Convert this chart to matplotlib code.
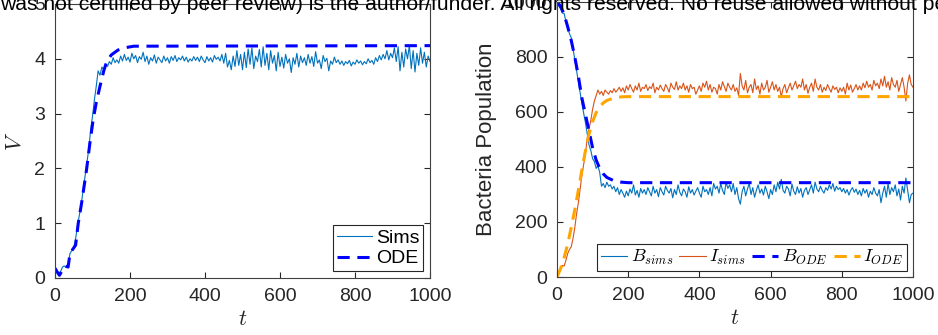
import numpy as np
import matplotlib
matplotlib.use("Agg")
import matplotlib.pyplot as plt

plt.rcParams['font.family'] = ['Liberation Sans', 'DejaVu Sans']
plt.rcParams['mathtext.fontset'] = 'cm'

# time grid of the stochastic simulations
t_sims = np.arange(0, 1001, 5)

V_sims = [0.18, 0.10, 0.04, 0.12, 0.20, 0.22, 0.19, 0.24, 0.45, 0.50,
          0.55, 0.72, 0.95, 1.15, 1.35, 1.60, 1.85, 2.10, 2.35, 2.70,
          2.95, 3.25, 3.50, 3.78, 3.70, 3.85, 3.80, 3.90, 3.86, 3.95,
          3.90, 4.02, 3.93, 3.98, 3.92, 4.05, 3.96, 4.08, 3.97, 4.03,
          3.94, 4.10, 4.00, 4.06, 3.93, 4.04, 3.99, 4.12, 3.95, 4.05,
          3.90, 4.02, 3.96, 4.07, 3.92, 4.03, 3.98, 3.93, 4.05, 3.96,
          4.02, 3.92, 4.04, 3.97, 4.06, 3.95, 4.02, 3.98, 4.05, 3.96,
          4.03, 3.94, 4.00, 3.96, 4.04, 3.97, 4.03, 3.95, 4.05, 3.98,
          3.93, 4.04, 3.96, 4.02, 3.94, 4.06, 3.99, 4.03, 3.96, 4.08,
          3.92, 4.10, 3.85, 3.97, 3.80, 4.05, 3.86, 4.15, 3.88, 4.08,
          3.80, 4.12, 3.84, 4.18, 3.90, 4.20, 3.82, 4.05, 3.95, 4.17,
          3.85, 4.22, 3.88, 4.10, 3.80, 4.15, 3.92, 4.06, 3.78, 4.12,
          3.86, 4.03, 3.83, 4.08, 3.92, 4.00, 3.75, 4.02, 3.90, 4.10,
          3.85, 4.05, 3.93, 4.02, 3.88, 4.08, 3.92, 4.04, 3.86, 4.13,
          3.92, 3.98, 3.82, 4.06, 3.95, 4.01, 3.78, 3.96, 3.90, 4.03,
          3.93, 3.98, 3.90, 3.96, 3.88, 3.95, 3.91, 3.97, 3.87, 3.94,
          3.90, 3.98, 3.92, 3.96, 3.89, 3.95, 3.91, 4.00, 3.93, 3.97,
          3.90, 4.02, 3.95, 4.06, 3.98, 4.08, 4.00, 4.15, 3.98, 4.10,
          4.02, 4.20, 3.95, 4.22, 3.78, 4.12, 3.85, 4.18, 4.00, 4.24,
          3.82, 4.15, 3.76, 4.10, 3.88, 4.20, 3.92, 4.12, 3.85, 4.05,
          3.95]

B_sims = [1000, 985, 975, 960, 958, 930, 905, 885, 870, 830,
          790, 750, 710, 670, 630, 595, 560, 520, 480, 460,
          430, 420, 395, 405, 380, 330, 340, 325, 345, 330,
          335, 320, 330, 310, 325, 300, 318, 305, 290, 312,
          295, 320, 305, 335, 298, 315, 290, 322, 305, 318,
          300, 325, 310, 295, 330, 305, 318, 292, 325, 310,
          298, 330, 315, 305, 322, 288, 318, 300, 335, 308,
          295, 320, 310, 290, 328, 305, 318, 298, 312, 325,
          305, 290, 330, 310, 318, 300, 325, 295, 340, 320,
          330, 305, 340, 315, 300, 345, 322, 335, 310, 340,
          300, 325, 285, 265, 310, 330, 295, 320, 340, 300,
          325, 290, 315, 335, 305, 320, 298, 330, 310, 285,
          318, 300, 335, 310, 345, 320, 355, 315, 305, 330,
          320, 295, 338, 312, 300, 328, 305, 322, 290, 315,
          325, 300, 318, 335, 305, 345, 320, 310, 330, 315,
          305, 325, 315, 335, 320, 340, 312, 330, 318, 325,
          310, 322, 305, 318, 298, 315, 325, 308, 320, 300,
          315, 295, 322, 305, 318, 290, 312, 300, 325, 305,
          295, 318, 270, 305, 330, 290, 340, 300, 325, 310,
          335, 295, 320, 280, 330, 305, 360, 315, 270, 300,
          305]

I_sims = [0, 15, 30, 42, 40, 60, 85, 100, 110, 140,
          180, 230, 270, 320, 370, 410, 450, 505, 540, 570,
          610, 640, 660, 680, 665, 675, 660, 680, 672, 665,
          678, 670, 685, 672, 680, 690, 675, 688, 670, 695,
          680, 700, 685, 672, 695, 680, 705, 675, 690, 685,
          700, 678, 692, 685, 705, 670, 690, 680, 698, 685,
          675, 700, 688, 672, 705, 690, 682, 710, 680, 695,
          685, 705, 680, 695, 672, 700, 685, 690, 665, 680,
          695, 675, 705, 690, 712, 680, 700, 672, 690, 685,
          665, 700, 680, 710, 692, 675, 705, 690, 680, 700,
          675, 688, 660, 740, 695, 680, 715, 670, 690, 700,
          670, 720, 682, 695, 665, 705, 680, 690, 715, 672,
          690, 710, 680, 700, 675, 690, 655, 685, 700, 670,
          688, 705, 680, 695, 712, 685, 700, 690, 720, 680,
          700, 668, 690, 705, 675, 720, 690, 680, 700, 672,
          690, 678, 700, 685, 672, 695, 682, 690, 670, 688,
          675, 690, 665, 705, 680, 698, 672, 685, 700, 680,
          695, 680, 705, 688, 712, 690, 700, 680, 715, 695,
          705, 685, 720, 695, 730, 690, 710, 680, 725, 700,
          690, 715, 675, 700, 725, 690, 640, 705, 735, 700,
          690]

# ODE solutions
t_V_ode = [0, 5, 12, 20, 27, 35, 40, 50, 55, 62, 71, 84, 93, 102, 110,
           120, 130, 138, 150, 168, 185, 210, 1000]
V_ode = [0.18, 0.12, 0.05, 0.15, 0.22, 0.20, 0.45, 0.55, 0.60, 1.00, 1.37,
         1.97, 2.46, 2.90, 3.20, 3.50, 3.78, 3.95, 4.07, 4.16, 4.20, 4.23, 4.24]

t_BI_ode = [0, 10, 20, 30, 40, 50, 60, 70, 80, 90, 100, 110, 120, 130, 140,
            160, 180, 200, 1000]
B_ode = [1000, 985, 955, 910, 860, 800, 730, 650, 590, 530, 470, 425, 395,
         375, 362, 350, 345, 343, 343]
I_ode = [0, 30, 70, 120, 180, 245, 315, 390, 460, 520, 565, 598, 620, 633,
         642, 651, 655, 656, 656]

banner_head = ('was not certified by peer review) is the author/funder. '
               'All rights reserved. No reuse allowed without ')
banner_tail = 'permission.'

blue_sim = '#0072BD'
red_sim = '#D95319'
ink = '#262626'


def style_axes(ax):
    ax.tick_params(direction='in', length=4, width=0.8, labelsize=14,
                   colors=ink, top=True, right=True, pad=7)
    for s in ax.spines.values():
        s.set_color('#404040')
        s.set_linewidth(0.8)
    ax.set_xlim(0, 1000)
    ax.set_xticks([0, 200, 400, 600, 800, 1000])
    ax.set_xlabel('$t$', fontsize=16, color=ink, labelpad=3)


fig = plt.figure(figsize=(9.38, 3.35), dpi=100)

ax1 = fig.add_axes([55 / 938, 57 / 335, 375 / 938, 274 / 335])
ax1.plot(t_sims, V_sims, color=blue_sim, lw=0.8, label='Sims')
ax1.plot(t_V_ode, V_ode, color='#0000FF', lw=2.2, ls=(0, (4, 2.5)), label='ODE')
style_axes(ax1)
ax1.set_ylim(0, 5)
ax1.set_yticks([0, 1, 2, 3, 4, 5])
ax1.set_ylabel('$V$', fontsize=16, color=ink, labelpad=6)
leg1 = ax1.legend(loc='lower right', fontsize=14, handlelength=1.8,
                  handletextpad=0.2, borderpad=0.2, labelspacing=0.15,
                  fancybox=False, framealpha=1, borderaxespad=0.35)
leg1.get_frame().set_edgecolor(ink)
leg1.get_frame().set_linewidth(0.8)

ax2 = fig.add_axes([557 / 938, 58 / 335, 356 / 938, 275 / 335])
ax2.plot(t_sims, B_sims, color=blue_sim, lw=0.8, label='$B_{sims}$')
ax2.plot(t_sims, I_sims, color=red_sim, lw=0.8, label='$I_{sims}$')
ax2.plot(t_BI_ode, B_ode, color='#0000FF', lw=2.2, ls=(0, (4, 2.5)), label='$B_{ODE}$')
ax2.plot(t_BI_ode, I_ode, color='#FFA500', lw=2.2, ls=(0, (4, 2.5)), label='$I_{ODE}$')
style_axes(ax2)
ax2.set_ylim(0, 1000)
ax2.set_yticks([0, 200, 400, 600, 800, 1000])
ax2.set_ylabel('Bacteria Population', fontsize=16, color=ink, labelpad=5)
leg2 = ax2.legend(loc='lower right', ncol=4, fontsize=13, handlelength=1.45,
                  handletextpad=0.2, columnspacing=0.35, borderpad=0.2,
                  fancybox=False, framealpha=1, borderaxespad=0.35)
leg2.get_frame().set_edgecolor(ink)
leg2.get_frame().set_linewidth(0.8)

# overlaid preprint notice: size it so "...without " ends near the right edge
renderer = fig.canvas.get_renderer()
probe = fig.text(0, 0, banner_head, fontsize=14)
w = probe.get_window_extent(renderer).width
probe.remove()
banner_size = 14 * 932 / w
fig.text(0.0, 1 - 10 / 335, banner_head + banner_tail,
         fontsize=banner_size, color='black', va='baseline', ha='left', zorder=10)

fig.savefig('out.png', dpi=100)
